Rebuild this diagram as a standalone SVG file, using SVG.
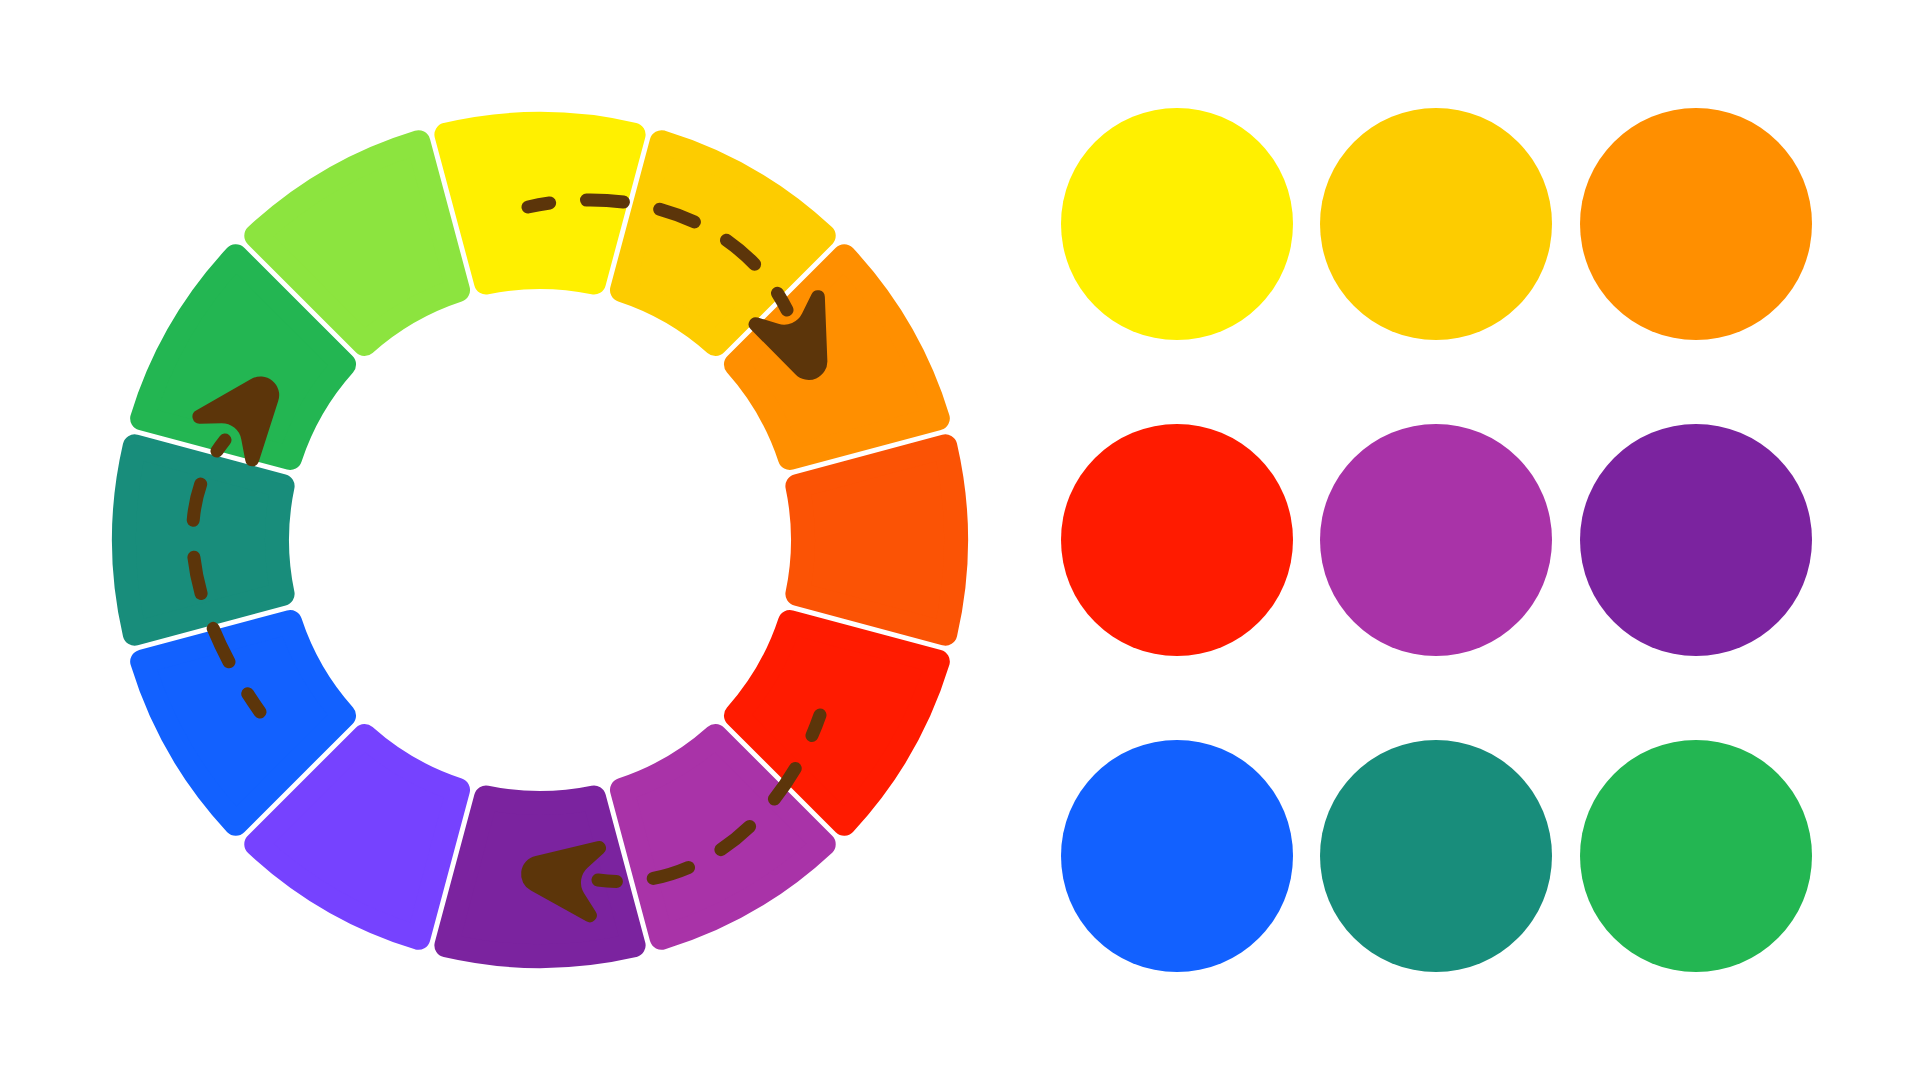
<svg xmlns="http://www.w3.org/2000/svg" xmlns:xlink="http://www.w3.org/1999/xlink" width="1920" height="1080" viewBox="0 0 1920 1080">
<style>
.seg{stroke-width:24;stroke-linejoin:round}
.dash{fill:none;stroke:#5C350A;stroke-width:13;stroke-linecap:round;stroke-dasharray:37 37;stroke-dashoffset:15}
.head{fill:#5C350A}
</style>
<defs>
<path id="seg" d="M446.4,134.67 A416,416 0 0 1 633.6,134.67 L593.96,282.6 A263,263 0 0 0 486.04,282.6 Z"/>
<path id="ah" d="M-11.7,-17.45 A18.6,18.6 0 0 1 -11.7,17.45 L-70.7,40.4 A7,7 0 0 1 -78.6,29.3 L-64.7,12.9 A20,20 0 0 0 -64.7,-12.9 L-78.6,-29.3 A7,7 0 0 1 -70.7,-40.4 Z"/>
</defs>
<rect width="1920" height="1080" fill="#FFFFFF"/>
<g id="wheel">
<g id="seg-yellow"><use href="#seg" class="seg" fill="#FFF000" stroke="#FFF000"/></g>
<g id="seg-yellow-orange"><use href="#seg" class="seg" transform="rotate(30 540 540)" fill="#FDCC00" stroke="#FDCC00"/></g>
<g id="seg-orange"><use href="#seg" class="seg" transform="rotate(60 540 540)" fill="#FF8F00" stroke="#FF8F00"/></g>
<g id="seg-red-orange"><use href="#seg" class="seg" transform="rotate(90 540 540)" fill="#FB5305" stroke="#FB5305"/></g>
<g id="seg-red"><use href="#seg" class="seg" transform="rotate(120 540 540)" fill="#FF1B00" stroke="#FF1B00"/></g>
<g id="seg-red-violet"><use href="#seg" class="seg" transform="rotate(150 540 540)" fill="#A933A8" stroke="#A933A8"/></g>
<g id="seg-violet"><use href="#seg" class="seg" transform="rotate(180 540 540)" fill="#7B239F" stroke="#7B239F"/></g>
<g id="seg-blue-violet"><use href="#seg" class="seg" transform="rotate(210 540 540)" fill="#7642FF" stroke="#7642FF"/></g>
<g id="seg-blue"><use href="#seg" class="seg" transform="rotate(240 540 540)" fill="#1261FF" stroke="#1261FF"/></g>
<g id="seg-teal"><use href="#seg" class="seg" transform="rotate(270 540 540)" fill="#188D7B" stroke="#188D7B"/></g>
<g id="seg-green"><use href="#seg" class="seg" transform="rotate(300 540 540)" fill="#23B652" stroke="#23B652"/></g>
<g id="seg-yellow-green"><use href="#seg" class="seg" transform="rotate(330 540 540)" fill="#8CE43F" stroke="#8CE43F"/></g>
</g>
<g id="connectors">
<g id="arrow-yellow-orange">
<path class="dash" d="M528,207 C629,184 740.6,217.3 787,310"/>
<use href="#ah" class="head" transform="translate(816,378) rotate(66.5)"/>
</g>
<g id="arrow-red-violet">
<path class="dash" d="M820,715 C785.7,813 700.9,894 598,880"/>
<use href="#ah" class="head" transform="translate(521.7,871.7) rotate(187.8)"/>
</g>
<g id="arrow-blue-green">
<path class="dash" d="M260,712 C201.3,628.9 161.4,519.4 225,440"/>
<use href="#ah" class="head" transform="translate(272,381) rotate(-51)"/>
</g>
</g>
<g id="swatches">
<g id="sw-yellow"><circle cx="1177" cy="224" r="116" fill="#FFF000"/></g>
<g id="sw-yellow-orange"><circle cx="1436" cy="224" r="116" fill="#FDCC00"/></g>
<g id="sw-orange"><circle cx="1696" cy="224" r="116" fill="#FF8F00"/></g>
<g id="sw-red"><circle cx="1177" cy="540" r="116" fill="#FF1B00"/></g>
<g id="sw-red-violet"><circle cx="1436" cy="540" r="116" fill="#A933A8"/></g>
<g id="sw-violet"><circle cx="1696" cy="540" r="116" fill="#7B239F"/></g>
<g id="sw-blue"><circle cx="1177" cy="856" r="116" fill="#1261FF"/></g>
<g id="sw-teal"><circle cx="1436" cy="856" r="116" fill="#188D7B"/></g>
<g id="sw-green"><circle cx="1696" cy="856" r="116" fill="#23B652"/></g>
</g>
</svg>
